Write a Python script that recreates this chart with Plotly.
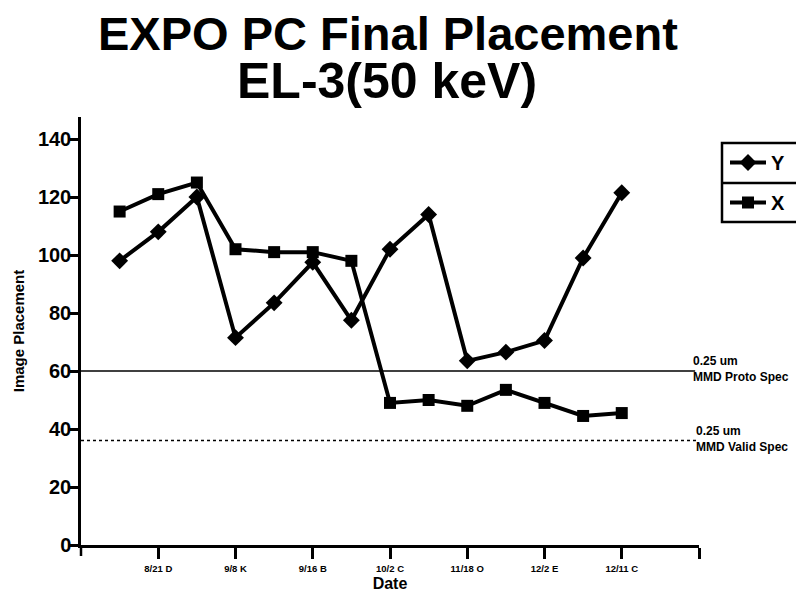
import plotly.graph_objects as go

idx = list(range(14))
y_series = [98, 108, 120, 71.5, 83.5, 97.5, 77.5, 102, 114, 63.5, 66.5, 70.5, 99, 121.5]
x_series = [115, 121, 125, 102, 101, 101, 98, 49, 50, 48, 53.5, 49, 44.5, 45.5]
tick_pos = [1, 3, 5, 7, 9, 11, 13, 15]
tick_labels = ["8/21 D", "9/8 K", "9/16 B", "10/2 C", "11/18 O", "12/2 E", "12/11 C", ""]
proto_spec = 60
valid_spec = 36

SANS = "Liberation Sans, Arial, sans-serif"

# page body has an 8px margin: work in reference pixels, shift by OFF
OFF = 8
W, H = 804 - OFF, 592 - OFF
PL, PR, PT, PB = 81, 699, 117, 545  # plot area in reference pixels
L, R, T, B = PL - OFF, W - (PR - OFF), PT - OFF, H - (PB - OFF)
pw = W - L - R
ph = H - T - B


def px(xpix):
    return (xpix - OFF - L) / pw


def py(ypix):
    return (H - B - (ypix - OFF)) / ph


fig = go.Figure()
fig.add_trace(go.Scatter(x=idx, y=y_series, name="Y", mode="lines+markers",
                         line=dict(color="black", width=4),
                         marker=dict(symbol="diamond", size=13, color="black"),
                         legendgroup="a"))
fig.add_trace(go.Scatter(x=idx, y=x_series, name="X", mode="lines+markers",
                         line=dict(color="black", width=4),
                         marker=dict(symbol="square", size=12, color="black"),
                         legendgroup="b"))

fig.update_layout(
    width=W, height=H,
    margin=dict(l=L, r=R, t=T, b=B, pad=0, autoexpand=False),
    paper_bgcolor="white", plot_bgcolor="white",
    showlegend=True,
    legend=dict(x=px(725), y=py(143), xanchor="left", yanchor="top",
                bgcolor="rgba(0,0,0,0)", borderwidth=0,
                font=dict(family=SANS, size=20, color="black", weight="bold"),
                traceorder="grouped", tracegroupgap=11, itemwidth=36),
    xaxis=dict(range=[-1, 15], showgrid=False, zeroline=False, automargin=False,
               showline=True, linecolor="black", linewidth=2.5,
               tickmode="array", tickvals=tick_pos, ticktext=tick_labels,
               ticks="outside", ticklen=11, tickwidth=2.5, tickcolor="black",
               ticklabelstandoff=2,
               tickfont=dict(family=SANS, size=9.5, color="black", weight="bold"),
               title=dict(text="<b>Date</b>", font=dict(family=SANS, size=16, color="black"),
                          standoff=5)),
    yaxis=dict(range=[0, 147.6], showgrid=False, zeroline=False, automargin=False,
               showline=True, linecolor="black", linewidth=2.5,
               tickvals=[0, 20, 40, 60, 80, 100, 120, 140],
               ticks="outside", ticklen=8, tickwidth=2.5, tickcolor="black",
               ticklabelstandoff=-5,
               tickfont=dict(family=SANS, size=20, color="black", weight="bold"),
               title=dict(text="<b>Image Placement</b>", font=dict(family=SANS, size=15, color="black"),
                          standoff=10)),
)

# spec lines
fig.add_shape(type="line", xref="x", yref="y", x0=-1, x1=14.9, y0=proto_spec, y1=proto_spec,
              line=dict(color="black", width=1.5))
fig.add_shape(type="line", xref="x", yref="y", x0=-1, x1=14.97, y0=valid_spec, y1=valid_spec,
              line=dict(color="black", width=1.5, dash="dot"))
fig.add_annotation(x=14.8, y=proto_spec, xref="x", yref="y", xanchor="left", yanchor="middle",
                   text="<b>0.25 um<br>MMD Proto Spec</b>", showarrow=False, align="left",
                   font=dict(family=SANS, size=12, color="black"), yshift=2)
fig.add_annotation(x=14.88, y=valid_spec, xref="x", yref="y", xanchor="left", yanchor="middle",
                   text="<b>0.25 um<br>MMD Valid Spec</b>", showarrow=False, align="left",
                   font=dict(family=SANS, size=12, color="black"), yshift=2)

# y-axis extension below origin
fig.add_shape(type="line", xref="paper", yref="paper", x0=0, x1=0, y0=0, y1=-11 / ph,
              line=dict(color="black", width=2.5))

# legend box and separator
fig.add_shape(type="rect", xref="paper", yref="paper", x0=px(722), x1=px(800), y0=py(222), y1=py(143),
              line=dict(color="black", width=2.5))
fig.add_shape(type="line", xref="paper", yref="paper", x0=px(722), x1=px(800), y0=py(183), y1=py(183),
              line=dict(color="black", width=2.5))

# title
fig.add_annotation(x=px(388), y=py(33), xref="paper", yref="paper", xanchor="center", yanchor="middle",
                   text="<b>EXPO PC Final Placement</b>", showarrow=False,
                   font=dict(family=SANS, size=47, color="black"))
fig.add_annotation(x=px(387), y=py(81), xref="paper", yref="paper", xanchor="center", yanchor="middle",
                   text="<b>EL-3(50 keV)</b>", showarrow=False,
                   font=dict(family=SANS, size=50, color="black"))

fig.write_html("out.html")
